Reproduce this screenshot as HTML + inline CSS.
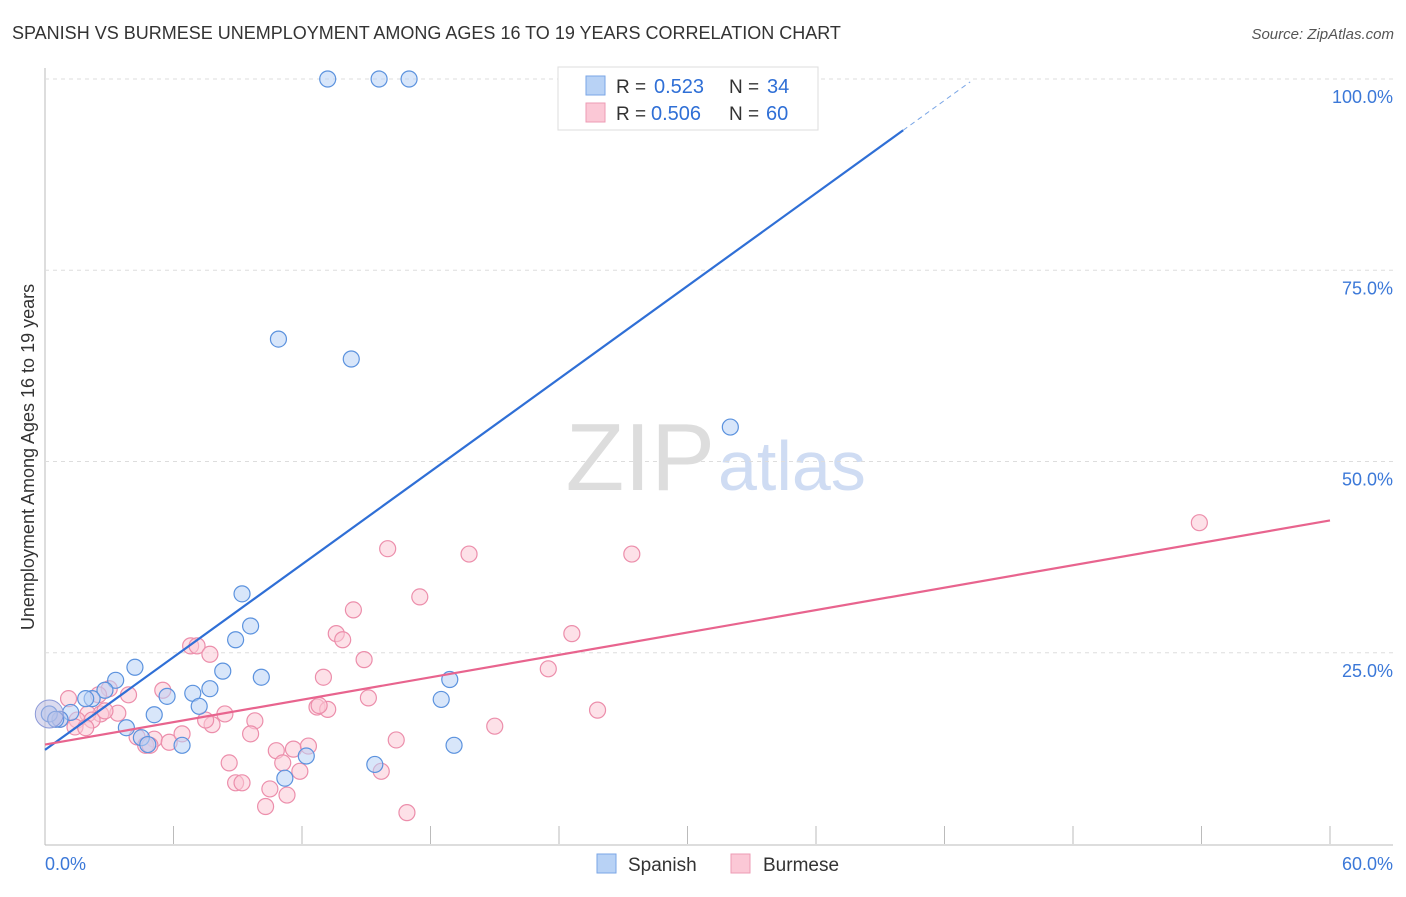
<!DOCTYPE html>
<html><head><meta charset="utf-8"><style>
body{margin:0;background:#fff;font-family:"Liberation Sans",sans-serif;}
svg text{font-family:"Liberation Sans",sans-serif;}
</style></head><body>
<svg id="chart" width="1406" height="892">
<text x="12" y="39" font-size="18" fill="#333">SPANISH VS BURMESE UNEMPLOYMENT AMONG AGES 16 TO 19 YEARS CORRELATION CHART</text>
<text x="1394" y="39" font-size="15" fill="#555" text-anchor="end" font-style="italic">Source: ZipAtlas.com</text>
<text x="715" y="490" font-size="96" fill="#ddd" text-anchor="end" font-family="Liberation Serif">ZIP</text>
<text x="718" y="490" font-size="70" fill="#cfdcf3">atlas</text>
<text transform="translate(34,457) rotate(-90)" font-size="18" fill="#333" text-anchor="middle">Unemployment Among Ages 16 to 19 years</text>
<g id="grid"></g><g id="pts"></g><g id="lines"></g>
<g>
<rect x="558" y="67" width="260" height="63" fill="#fff" stroke="#ddd"/>
<rect x="586" y="76" width="19" height="19" fill="#b8d2f5" stroke="#7aa6e6"/>
<rect x="586" y="103" width="19" height="19" fill="#fbc8d6" stroke="#ee9bb4"/>
<text x="616" y="93" font-size="19" fill="#333">R =</text>
<text x="654" y="93" font-size="20" fill="#2f6fd6">0.523</text>
<text x="729" y="93" font-size="19" fill="#333">N =</text>
<text x="767" y="93" font-size="20" fill="#2f6fd6">34</text>
<text x="616" y="120" font-size="19" fill="#333">R =</text>
<text x="651" y="120" font-size="20" fill="#2f6fd6">0.506</text>
<text x="729" y="120" font-size="19" fill="#333">N =</text>
<text x="766" y="120" font-size="20" fill="#2f6fd6">60</text>
</g>
<g>
<rect x="597" y="854" width="19" height="19" fill="#b8d2f5" stroke="#7aa6e6"/>
<text x="628" y="871" font-size="19" fill="#333">Spanish</text>
<rect x="731" y="854" width="19" height="19" fill="#fbc8d6" stroke="#ee9bb4"/>
<text x="763" y="871" font-size="19" fill="#333">Burmese</text>
</g>
<text x="45" y="870" font-size="18" fill="#3b78d8">0.0%</text>
<text x="1393" y="870" font-size="18" fill="#3b78d8" text-anchor="end">60.0%</text>
</svg>
<script>
const yTicks=[100,75,50,25];
const yTickLabels=["100.0%","75.0%","50.0%","25.0%"];
const xTicks=[6,12,18,24,30,36,42,48,54,60];
const spanishX=[13.2,15.6,17.0,10.9,14.3,32.0,9.2,9.6,8.9,4.2,3.3,2.8,8.3,7.7,6.9,5.7,10.1,7.2,5.1,3.8,4.5,4.8,6.4,12.2,11.2,15.4,18.9,18.5,19.1,2.2,1.9,1.2,0.7,0.2,0.5];
const spanishY=[100,100,100,66.0,63.4,54.5,32.7,28.5,26.7,23.1,21.4,20.1,22.6,20.3,19.7,19.3,21.8,18.0,16.9,15.2,13.9,13.0,12.9,11.5,8.6,10.4,21.5,18.9,12.9,19.0,19.0,17.2,16.3,17.0,16.3];
const burmeseX=[53.9,16.0,19.8,27.4,17.5,14.4,13.6,13.9,14.9,24.6,23.5,6.8,7.1,7.7,13.0,15.1,12.7,13.2,25.8,21.0,16.4,5.5,3.9,3.0,2.5,1.1,3.4,2.6,2.0,1.5,2.2,1.4,1.9,2.8,4.3,5.1,5.8,4.7,4.9,6.4,7.8,7.5,8.4,9.8,9.6,10.8,11.6,12.3,8.6,8.9,9.2,11.1,11.9,10.5,11.3,10.3,15.7,16.9,12.8,0.7];
const burmeseY=[42.0,38.6,37.9,37.9,32.3,30.6,27.5,26.7,24.1,27.5,22.9,25.9,25.9,24.8,21.8,19.1,17.9,17.6,17.5,15.4,13.6,20.1,19.5,20.3,19.5,19.0,17.1,17.0,17.0,16.2,16.2,15.3,15.2,17.4,14.0,13.7,13.3,12.9,12.9,14.4,15.6,16.2,17.0,16.1,14.4,12.2,12.4,12.8,10.6,8.0,8.0,10.6,9.5,7.2,6.4,4.9,9.5,4.1,18.1,16.3];
const X0=45,X1=1330,Y0=844,Y100=79;
const sx=v=>X0+v/60*(X1-X0), sy=v=>Y0-v/100*(Y0-Y100);
const NS="http://www.w3.org/2000/svg";
function mk(t,a,p){const e=document.createElementNS(NS,t);for(const k in a)e.setAttribute(k,a[k]);p.appendChild(e);return e;}
const grid=document.getElementById('grid');
mk('line',{x1:X0,y1:68,x2:X0,y2:Y0+1,stroke:'#bbb'},grid);
mk('line',{x1:X0,y1:Y0+1,x2:1393,y2:Y0+1,stroke:'#bbb'},grid);
yTicks.forEach((t,i)=>{
 const l=mk('line',{x1:X0,y1:sy(t),x2:1393,y2:sy(t),stroke:'#ddd','stroke-dasharray':'4,4'},grid);
 
 
 const tx=mk('text',{x:1393,y:sy(t)+24,'font-size':18,fill:'#3b78d8','text-anchor':'end'},grid);
 tx.textContent=yTickLabels[i];
 
 
});
xTicks.forEach(t=>{
 const l=mk('line',{x1:sx(t),y1:Y0-18,x2:sx(t),y2:Y0,stroke:'#bbb'},grid);
 
 
});
const pts=document.getElementById('pts');
function dots(xs,ys,fill,stroke,name){
 xs.forEach((x,i)=>{
  const c=mk('circle',{cx:sx(x),cy:sy(ys[i]),r:8,fill:fill,'fill-opacity':0.55,stroke:stroke,'stroke-width':1.2},pts);
  
  
 });
}
dots(burmeseX,burmeseY,'#fbc8d6','#ec8eab','burmese-point');
dots(spanishX,spanishY,'#b8d2f5','#5b92de','spanish-point');
const big=mk('circle',{cx:sx(0.2),cy:sy(17),r:14,fill:'#b8b8e0','fill-opacity':0.5,stroke:'#8c9ad8'},pts);


const lines=document.getElementById('lines');
const bSlope=(93.3-12.3)/40.07, bInt=12.3;
const pSlope=(42.3-13.0)/60, pInt=13.0;
let l=mk('line',{x1:sx(0),y1:sy(bInt),x2:sx(40.07),y2:sy(bInt+bSlope*40.07),stroke:'#2f6fd6','stroke-width':2.2},lines);


l=mk('line',{x1:sx(40.07),y1:sy(bInt+bSlope*40.07),x2:sx(43.2),y2:sy(bInt+bSlope*43.2),stroke:'#7aa6e6','stroke-width':1,'stroke-dasharray':'5,4'},lines);


l=mk('line',{x1:sx(0),y1:sy(pInt),x2:sx(60),y2:sy(pInt+pSlope*60),stroke:'#e8648e','stroke-width':2.2},lines);


</script>
</body></html>
